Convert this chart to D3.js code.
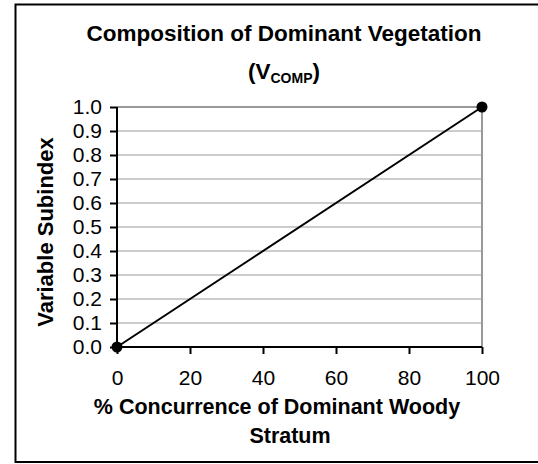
<!DOCTYPE html>
<html>
<head>
<meta charset="utf-8">
<script src="https://cdn.jsdelivr.net/npm/d3@7"></script>
<style>
  html, body { margin: 0; background: #fff; overflow: hidden; }
  svg { display: block; font-family: Arial, "Liberation Sans", sans-serif; }
</style>
</head>
<body>
<div class="wrapper"></div>
<script>
// data
var xValues = [0, 100];
var yValues = [0, 1];
var xTicks = [0, 20, 40, 60, 80, 100];
var yTicks = [0, 0.1, 0.2, 0.3, 0.4, 0.5, 0.6, 0.7, 0.8, 0.9, 1.0];
var titleLines = ["Composition of Dominant Vegetation"];
var xLabelLines = ["% Concurrence of Dominant Woody", "Stratum"];
var yLabel = "Variable Subindex";

var width = 538, height = 464;
var plot = { left: 117, right: 482, top: 107, bottom: 347 };

var svg = d3.select(".wrapper").append("svg")
  .attr("width", width)
  .attr("height", height);

// outer frame: top, left and bottom only, right side runs off the page
svg.append("path")
  .attr("d", "M545,4.5H15.5V462H545")
  .attr("fill", "none")
  .attr("stroke", "#000")
  .attr("stroke-width", 2);

var x = d3.scaleLinear().domain([0, 100]).range([plot.left, plot.right]);
var y = d3.scaleLinear().domain([0, 1]).range([plot.bottom, plot.top]);

// gridlines
svg.append("g").attr("class", "grid")
  .selectAll("line")
  .data(yTicks.filter(d => d > 0))
  .enter().append("line")
  .attr("x1", plot.left).attr("x2", plot.right)
  .attr("y1", d => y(d)).attr("y2", d => y(d))
  .attr("stroke", "#999")
  .attr("stroke-width", d => d === 1 ? 2 : 1);

svg.append("line")
  .attr("x1", x(100)).attr("x2", x(100))
  .attr("y1", y(1)).attr("y2", y(0))
  .attr("stroke", "#999")
  .attr("stroke-width", 2);

// axes
var yAxis = svg.append("g")
  .attr("transform", `translate(${plot.left},0)`)
  .call(d3.axisLeft(y).tickValues(yTicks).tickFormat(d3.format(".1f")).tickSize(7).tickPadding(8));

var xAxis = svg.append("g")
  .attr("transform", `translate(0,${plot.bottom})`)
  .call(d3.axisBottom(x).tickValues(xTicks).tickSize(7).tickPadding(16));

[yAxis, xAxis].forEach(a => {
  a.select(".domain").attr("stroke", "#000").attr("stroke-width", 2)
    .attr("d", a === yAxis ? `M0,${plot.top}V${plot.bottom}` : `M${plot.left},0H${plot.right}`);
  a.selectAll(".tick line").attr("stroke", "#000").attr("stroke-width", 2);
  a.selectAll(".tick text").attr("fill", "#000")
    .style("font-family", "Arial, 'Liberation Sans', sans-serif")
    .style("font-size", "21px");
});

// series
var points = xValues.map((d, i) => [d, yValues[i]]);
svg.append("path")
  .datum(points)
  .attr("fill", "none")
  .attr("stroke", "#000")
  .attr("stroke-width", 2)
  .attr("d", d3.line().x(d => x(d[0])).y(d => y(d[1])));

svg.selectAll(".marker")
  .data(points)
  .enter().append("circle")
  .attr("class", "marker")
  .attr("cx", d => x(d[0])).attr("cy", d => y(d[1]))
  .attr("r", 5.5)
  .attr("fill", "#000");

// title
svg.append("text")
  .attr("x", 284).attr("y", 41)
  .attr("text-anchor", "middle")
  .style("font-size", "22.5px").style("font-weight", "bold")
  .text(titleLines[0]);

var sub = svg.append("text")
  .attr("x", 284).attr("y", 79)
  .attr("text-anchor", "middle")
  .style("font-size", "22.5px").style("font-weight", "bold");
sub.append("tspan").text("(V");
sub.append("tspan").attr("dy", 4).style("font-size", "14px").text("COMP");
sub.append("tspan").attr("dy", -4).text(")");

// axis titles
svg.selectAll(".xlabel")
  .data(xLabelLines)
  .enter().append("text")
  .attr("class", "xlabel")
  .attr("x", (d, i) => i === 0 ? 277 : 290)
  .attr("y", (d, i) => 414 + i * 29)
  .attr("text-anchor", "middle")
  .style("font-size", "21.5px").style("font-weight", "bold")
  .text(d => d);

svg.append("text")
  .attr("transform", "translate(53,232) rotate(-90)")
  .attr("text-anchor", "middle")
  .style("font-size", "22px").style("font-weight", "bold")
  .text(yLabel);
</script>
</body>
</html>
